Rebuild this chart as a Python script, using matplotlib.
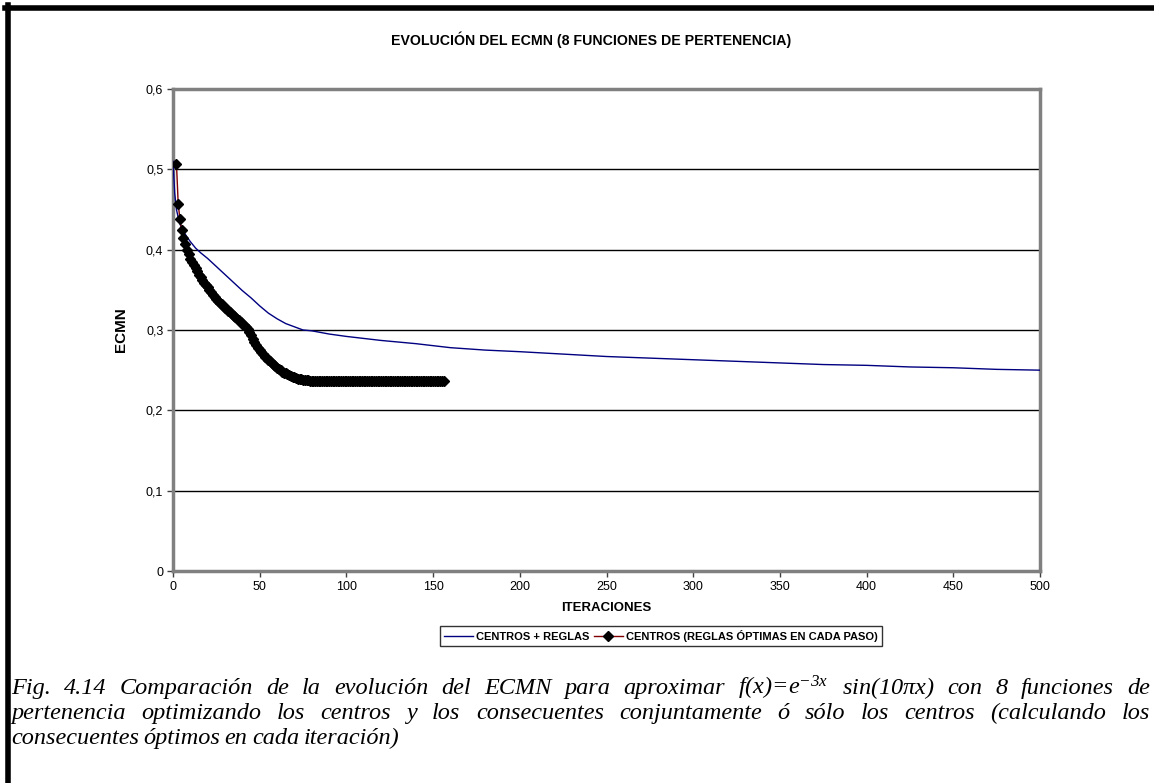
import numpy as np
import matplotlib
matplotlib.use('Agg')
import matplotlib.pyplot as plt
from matplotlib.lines import Line2D

plt.rcParams['font.family'] = ['Liberation Sans', 'DejaVu Sans']
plt.rcParams['mathtext.fontset'] = 'custom'
plt.rcParams['mathtext.rm'] = 'Liberation Serif:italic'
plt.rcParams['mathtext.it'] = 'Liberation Serif:italic'

# datos leidos de la grafica
# serie 1: centros + reglas (muestreada)
iter_cr = [0, 1, 2, 3, 4, 5, 6, 8, 10, 13, 16, 20, 25, 30, 35, 40, 45, 50, 55, 60,
           65, 70, 75, 80, 90, 100, 120, 140, 160, 180, 200, 225, 250, 275, 300,
           325, 350, 375, 400, 425, 450, 475, 500]
ecmn_cr = [0.510, 0.470, 0.450, 0.440, 0.432, 0.427, 0.423, 0.416, 0.410, 0.402,
           0.396, 0.389, 0.379, 0.369, 0.359, 0.349, 0.340, 0.330, 0.321, 0.314,
           0.308, 0.304, 0.300, 0.299, 0.295, 0.292, 0.287, 0.283, 0.278, 0.275,
           0.273, 0.270, 0.267, 0.265, 0.263, 0.261, 0.259, 0.257, 0.256, 0.254,
           0.253, 0.251, 0.250]

# serie 2: centros (reglas optimas en cada paso), una muestra por iteracion
iter_c = list(range(2, 157))
ecmn_c = [0.507, 0.457, 0.438, 0.425, 0.415, 0.407, 0.400, 0.394, 0.389, 0.385,
          0.381, 0.377, 0.373, 0.369, 0.366, 0.362, 0.359, 0.356, 0.353, 0.350,
          0.347, 0.344, 0.341, 0.338, 0.336, 0.334, 0.332, 0.330, 0.328, 0.326,
          0.324, 0.322, 0.320, 0.318, 0.316, 0.314, 0.312, 0.310, 0.308, 0.306,
          0.304, 0.301, 0.298, 0.294, 0.289, 0.285, 0.281, 0.278, 0.275, 0.272,
          0.270, 0.267, 0.265, 0.263, 0.261, 0.259, 0.257, 0.255, 0.253, 0.251,
          0.250, 0.248, 0.247, 0.246, 0.245, 0.244, 0.243, 0.242, 0.241, 0.240,
          0.2395, 0.239, 0.2385, 0.238, 0.2377, 0.2375, 0.2373, 0.2371, 0.2370,
          0.2369, 0.2369, 0.2369, 0.2369, 0.2369, 0.2369, 0.2369, 0.2369, 0.2369, 0.2369,
          0.2368, 0.2368, 0.2368, 0.2368, 0.2368, 0.2368, 0.2368, 0.2368, 0.2368, 0.2368,
          0.2368, 0.2368, 0.2368, 0.2368, 0.2368,
          0.2367, 0.2367, 0.2367, 0.2367, 0.2367, 0.2367, 0.2367, 0.2367, 0.2367, 0.2367,
          0.2367, 0.2367, 0.2367, 0.2367, 0.2367, 0.2367, 0.2367, 0.2367, 0.2367, 0.2367,
          0.2366, 0.2366, 0.2366, 0.2366, 0.2366, 0.2366, 0.2366, 0.2366, 0.2366, 0.2366,
          0.2366, 0.2366, 0.2366, 0.2366, 0.2366, 0.2366, 0.2366, 0.2366, 0.2366, 0.2366,
          0.2365, 0.2365, 0.2365, 0.2365, 0.2365, 0.2365, 0.2365, 0.2365, 0.2365, 0.2365,
          0.2365]

x_ticks = list(range(0, 501, 50))
y_ticks = [0, 0.1, 0.2, 0.3, 0.4, 0.5, 0.6]
y_tick_labels = ['0', '0,1', '0,2', '0,3', '0,4', '0,5', '0,6']

titulo = 'EVOLUCIÓN DEL ECMN (8 FUNCIONES DE PERTENENCIA)'
leyenda = ['CENTROS + REGLAS', 'CENTROS (REGLAS ÓPTIMAS EN CADA PASO)']
pie = [
    'Fig. 4.14 Comparación de la evolución del ECMN para aproximar '
    'f(x)=e$^{-3x}$ sin(10$\\pi$x) con 8 funciones de',
    'pertenencia optimizando los centros y los consecuentes conjuntamente '
    'ó sólo los centros (calculando los',
    'consecuentes óptimos en cada iteración)',
]

W, H = 1154, 783
fig = plt.figure(figsize=(W / 100, H / 100), dpi=100)

ax = fig.add_axes([173 / W, 1 - 571 / H, (1040 - 173) / W, (571 - 89) / H])
ax.plot(iter_cr, ecmn_cr, color='#000080', lw=1.0, label=leyenda[0], zorder=3)
ax.plot(iter_c, ecmn_c, color='#800000', lw=1.0, marker='D', ms=5,
        markerfacecolor='black', markeredgecolor='black',
        label=leyenda[1], zorder=4)

ax.set_xlim(0, 500)
ax.set_ylim(0, 0.6)
ax.set_xticks(x_ticks)
ax.set_yticks(y_ticks)
ax.set_yticklabels(y_tick_labels)
ax.yaxis.grid(True, color='black', lw=1.0)
ax.set_axisbelow(True)
for s in ax.spines.values():
    s.set_color('#808080')
    s.set_linewidth(2.5)
ax.tick_params(direction='out', length=4, width=1, color='#404040',
               labelsize=9, pad=3)

ax.set_xlabel('ITERACIONES', fontsize=9.5, fontweight='bold', labelpad=7)
ax.set_ylabel('ECMN', fontsize=11, fontweight='bold', labelpad=13)

fig.text(591 / W, 1 - 40 / H, titulo, ha='center', va='center',
         fontsize=10.2, fontweight='bold')

leg = fig.legend(loc='center', bbox_to_anchor=(661 / W, 1 - 636 / H), ncol=2,
                 prop={'size': 8, 'weight': 'bold'}, frameon=True,
                 fancybox=False, edgecolor='black', handlelength=2.6,
                 columnspacing=0.4, handletextpad=0.3, borderpad=0.35)
leg.get_frame().set_linewidth(1.0)

# marco negro del recuadro
fig.add_artist(Line2D([7.5 / W, 7.5 / W], [0, 1 - 5 / H], color='black', lw=4,
                      transform=fig.transFigure))
fig.add_artist(Line2D([5 / W, 1], [1 - 7.5 / H, 1 - 7.5 / H], color='black', lw=4,
                      transform=fig.transFigure))

# pie de figura justificado
renderer = fig.canvas.get_renderer()
fs = 17.5
x0, x1 = 11, 1150
ys = [694, 719, 744]
for k, linea in enumerate(pie):
    palabras = linea.split(' ')
    txts = [fig.text(0, 1 - ys[k] / H, p, fontsize=fs, fontstyle='italic',
                     family='Liberation Serif', va='baseline', ha='left')
            for p in palabras]
    anchos = [t.get_window_extent(renderer).width for t in txts]
    if k < 2:
        hueco = (x1 - x0 - sum(anchos)) / (len(palabras) - 1)
    else:
        hueco = fs * 0.25
    x = x0
    for t, a in zip(txts, anchos):
        t.set_x(x / W)
        x += a + hueco

fig.savefig('out.png', dpi=100)
